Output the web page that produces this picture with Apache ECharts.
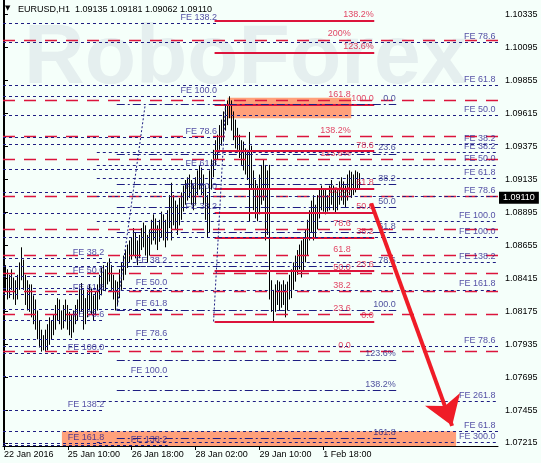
<!DOCTYPE html>
<html><head><meta charset="utf-8">
<script src="https://cdn.jsdelivr.net/npm/echarts@6/dist/echarts.min.js"></script>
<style>html,body{margin:0;padding:0;background:#f5fffa}#c{width:541px;height:463px}</style>
</head><body><div id="c"></div><script>
// ---------- data ----------
const tickLabels = ['22 Jan 2016','25 Jan 10:00','26 Jan 18:00','28 Jan 02:00','29 Jan 10:00','1 Feb 18:00'];
const priceTicks = [1.07215,1.07455,1.07695,1.07935,1.08175,1.08415,1.08655,1.08895,1.09135,1.09375,1.09615,1.09855,1.10095,1.10335];
const headerText = 'EURUSD,H1  1.09135 1.09181 1.09062 1.09110';
const lastPrice = 1.09110;
const firstOpen = 1.0848;
const highs = [
1.0853,1.0851,1.0848,1.0844,1.0848,1.0842,1.0840,1.0844,1.0853,1.0864,
1.0855,1.0844,1.0840,1.0837,1.0837,1.0829,1.0826,1.0818,1.0811,1.0804,
1.0800,1.0804,1.0808,1.0813,1.0811,1.0815,1.0822,1.0827,1.0826,1.0818,
1.0822,1.0826,1.0822,1.0817,1.0815,1.0818,1.0822,1.0826,1.0834,1.0838,
1.0833,1.0827,1.0833,1.0837,1.0834,1.0829,1.0832,1.0837,1.0844,1.0849,
1.0851,1.0848,1.0853,1.0856,1.0851,1.0844,1.0840,1.0839,1.0848,1.0853,
1.0858,1.0862,1.0866,1.0869,1.0871,1.0878,1.0875,1.0869,1.0873,1.0878,
1.0882,1.0880,1.0873,1.0877,1.0884,1.0888,1.0885,1.0880,1.0884,1.0890,
1.0888,1.0884,1.0891,1.0902,1.0911,1.0902,1.0898,1.0895,1.0900,1.0904,
1.0909,1.0913,1.0915,1.0917,1.0913,1.0909,1.0915,1.0920,1.0924,1.0922,
1.0917,1.0909,1.0902,1.0920,1.0928,1.0935,1.0942,1.0946,1.0953,1.0957,
1.0963,1.0968,1.0971,1.0974,1.0971,1.0963,1.0957,1.0951,1.0946,1.0942,
1.0941,1.0936,1.0935,1.0948,1.0938,1.0920,1.0913,1.0909,1.0917,1.0924,
1.0928,1.0924,1.0920,1.0924,1.0840,1.0833,1.0837,1.0840,1.0839,1.0837,
1.0840,1.0837,1.0839,1.0844,1.0848,1.0853,1.0858,1.0862,1.0866,1.0869,
1.0871,1.0877,1.0884,1.0891,1.0898,1.0902,1.0895,1.0902,1.0906,1.0909,
1.0907,1.0906,1.0902,1.0909,1.0913,1.0909,1.0906,1.0907,1.0912,1.0915,
1.0912,1.0909,1.0917,1.0920,1.0919,1.0917,1.0920,1.0919,1.0918];
const lows = [
1.0833,1.0832,1.0826,1.0827,1.0833,1.0826,1.0822,1.0826,1.0833,1.0840,
1.0833,1.0822,1.0818,1.0817,1.0813,1.0808,1.0804,1.0797,1.0791,1.0788,
1.0789,1.0788,1.0789,1.0793,1.0797,1.0800,1.0804,1.0811,1.0808,1.0804,
1.0805,1.0810,1.0804,1.0800,1.0798,1.0802,1.0808,1.0811,1.0815,1.0817,
1.0804,1.0808,1.0813,1.0818,1.0815,1.0811,1.0815,1.0818,1.0826,1.0829,
1.0833,1.0832,1.0837,1.0839,1.0833,1.0826,1.0818,1.0822,1.0827,1.0833,
1.0840,1.0844,1.0849,1.0853,1.0855,1.0858,1.0856,1.0851,1.0856,1.0862,
1.0864,1.0858,1.0853,1.0858,1.0866,1.0869,1.0866,1.0862,1.0868,1.0871,
1.0869,1.0864,1.0869,1.0878,1.0869,1.0880,1.0877,1.0873,1.0880,1.0884,
1.0890,1.0895,1.0898,1.0900,1.0895,1.0891,1.0895,1.0902,1.0906,1.0902,
1.0895,1.0884,1.0871,1.0875,1.0906,1.0915,1.0924,1.0928,1.0935,1.0938,
1.0942,1.0949,1.0953,1.0958,1.0949,1.0942,1.0936,1.0935,1.0929,1.0924,
1.0920,1.0917,1.0913,1.0883,1.0906,1.0891,1.0885,1.0883,1.0888,1.0895,
1.0898,1.0869,1.0873,1.0826,1.0817,1.0810,1.0817,1.0822,1.0818,1.0820,
1.0822,1.0813,1.0818,1.0826,1.0827,1.0833,1.0839,1.0844,1.0848,1.0842,
1.0846,1.0853,1.0858,1.0869,1.0875,1.0869,1.0871,1.0877,1.0885,1.0891,
1.0890,1.0888,1.0890,1.0891,1.0895,1.0891,1.0889,1.0891,1.0895,1.0898,
1.0895,1.0893,1.0898,1.0902,1.0900,1.0902,1.0904,1.0906,1.0906];
const closes = [
1.0844,1.0837,1.0833,1.0840,1.0837,1.0832,1.0829,1.0838,1.0848,1.0851,
1.0839,1.0829,1.0826,1.0827,1.0818,1.0813,1.0810,1.0802,1.0797,1.0793,
1.0795,1.0797,1.0800,1.0805,1.0804,1.0810,1.0815,1.0820,1.0813,1.0811,
1.0817,1.0818,1.0810,1.0808,1.0805,1.0813,1.0817,1.0822,1.0827,1.0826,
1.0813,1.0822,1.0826,1.0829,1.0822,1.0820,1.0826,1.0832,1.0837,1.0842,
1.0844,1.0840,1.0848,1.0849,1.0840,1.0833,1.0829,1.0833,1.0840,1.0846,
1.0853,1.0856,1.0861,1.0862,1.0866,1.0871,1.0864,1.0862,1.0868,1.0873,
1.0877,1.0866,1.0862,1.0871,1.0878,1.0880,1.0873,1.0871,1.0878,1.0882,
1.0877,1.0871,1.0882,1.0893,1.0898,1.0891,1.0888,1.0884,1.0891,1.0895,
1.0902,1.0906,1.0907,1.0909,1.0902,1.0900,1.0907,1.0913,1.0917,1.0909,
1.0902,1.0891,1.0880,1.0913,1.0922,1.0929,1.0936,1.0941,1.0948,1.0953,
1.0958,1.0964,1.0966,1.0968,1.0955,1.0949,1.0944,1.0942,1.0936,1.0931,
1.0928,1.0924,1.0920,1.0935,1.0917,1.0902,1.0895,1.0891,1.0906,1.0913,
1.0917,1.0891,1.0884,1.0833,1.0826,1.0822,1.0829,1.0833,1.0827,1.0829,
1.0833,1.0826,1.0833,1.0839,1.0842,1.0848,1.0853,1.0856,1.0861,1.0853,
1.0862,1.0869,1.0878,1.0885,1.0891,1.0880,1.0885,1.0895,1.0900,1.0902,
1.0898,1.0895,1.0898,1.0904,1.0906,1.0900,1.0897,1.0902,1.0906,1.0909,
1.0902,1.0904,1.0909,1.0915,1.0909,1.0912,1.0915,1.0914,1.0911];

// Fibonacci retracement levels [price, label]
const retraceA = [[1.1015,'200%'],[1.0971,'161.8'],[1.0945,'138.2%'],[1.0928,'123.6%'],[1.0901,'100.0'],[1.0877,'78.6'],[1.0858,'61.8'],[1.0845,'50.0'],[1.0832,'38.2'],[1.0815,'23.6'],[1.0788,'0.0']];
const retraceB = [[1.1029,'138.2%'],[1.1006,'123.6%'],[1.0968,'100.0'],[1.0934,'78.6'],[1.0907,'61.8'],[1.0889,'50.0'],[1.0871,'38.2'],[1.0847,'23.6'],[1.0810,'0.0']];
const retraceC = [[1.0968,'0.0'],[1.0932,'23.6'],[1.0910,'38.2'],[1.0893,'50.0'],[1.0875,'61.8'],[1.0850,'78.6'],[1.0818,'100.0'],[1.0782,'123.6%'],[1.0760,'138.2%'],[1.0725,'161.8']];
// Fibonacci expansion levels [price, label]
const expandD = [[1.1013,'FE 78.6'],[1.0982,'FE 61.8'],[1.0960,'FE 50.0'],[1.0939,'FE 38.2']];
const expandG = [[1.0933,'FE 38.2'],[1.0924,'FE 50.0'],[1.0914,'FE 61.8'],[1.0901,'FE 78.6'],[1.0883,'FE 100.0'],[1.0853,'FE 138.2'],[1.0833,'FE 161.8'],[1.0752,'FE 261.8'],[1.0722,'FE 300.0']];
const expandH = [[1.0871,'FE 100.0'],[1.0792,'FE 78.6'],[1.0730,'FE 61.8']];
const expandE = [[1.0856,'FE 38.2'],[1.0843,'FE 50.0'],[1.0830,'FE 61.8'],[1.0811,'FE 78.6'],[1.0787,'FE 100.0'],[1.0745,'FE 138.2'],[1.0721,'FE 161.8']];
const expandF = [[1.0850,'FE 38.2'],[1.0834,'FE 50.0'],[1.0819,'FE 61.8'],[1.0797,'FE 78.6'],[1.0770,'FE 100.0'],[1.0720,'FE 138.2']];
const expandI = [[1.1027,'FE 138.2'],[1.0974,'FE 100.0'],[1.0944,'FE 78.6'],[1.0921,'FE 61.8'],[1.0904,'FE 50.0'],[1.0889,'FE 38.2']];
// trend lines of the retracements [[bar, price],[bar, price]]
const trendC = [[56.5,1.0818],[70.75,1.0968]];
const trendB = [[105,1.0810],[111,1.0968]];
// forecast arrow
const arrowPath = [[184,1.0896],[224.5,1.0734]];
// highlighted zones [bar0, price0, bar1, price1]
const zones = [[112,1.0973,174,1.0958],[29,1.0730,226.5,1.0719]];

// ---------- build ----------
const SLOTS = 248;
const categories = Array.from({length: SLOTS}, (_, i) => String(i));
const ohlc = closes.map((c, i) => {
  const o = i === 0 ? firstOpen : closes[i - 1];
  return [o, c, Math.min(lows[i], o, c), Math.max(highs[i], o, c)];
});
const YMIN = 1.07193, YMAX = 1.10441;
const RED = '#dc143c', NAVY = '#1e1e82', LBL = '#2a2390';
const FONT = 'Liberation Sans';

const sets = [
  {lv: retraceA, from: -0.5, to: 247.5, at: 174,   color: RED,  width: 1.4, dash: [12, 9], lc: RED},
  {lv: retraceB, from: 105.5, to: 185.5, at: 185.5, color: RED,  width: 2,   dash: 'solid', lc: RED},
  {lv: retraceC, from: 56.5, to: 196.5, at: 196.5, color: NAVY, width: 1,   dash: [8, 3, 2, 3], lc: NAVY},
  {lv: expandD, from: -0.5, to: 247.5, at: 246.5, color: NAVY, width: 1, dash: [3, 3], lc: LBL},
  {lv: expandG, from: 46.5, to: 247.5, at: 246.5, color: NAVY, width: 1, dash: [3, 3], lc: LBL},
  {lv: expandH, from: -0.5, to: 247.5, at: 246.5, color: NAVY, width: 1, dash: [3, 3], lc: LBL},
  {lv: expandE, from: -0.5, to: 50.5, at: 50.5, color: NAVY, width: 1, dash: [3, 3], lc: LBL},
  {lv: expandF, from: -0.5, to: 82, at: 82, color: NAVY, width: 1, dash: [3, 3], lc: LBL},
  {lv: expandI, from: -0.5, to: 107, at: 107, color: NAVY, width: 1, dash: [3, 3], lc: LBL}
];

const series = [];
series.push({
  type: 'scatter', xAxisIndex: 1, yAxisIndex: 0, z: 1, silent: true, symbolSize: 0,
  data: [[0, 1.0]],
  markArea: {silent: true, itemStyle: {color: '#ffa07a'},
    data: zones.map(z => [{coord: [z[0], z[1]]}, {coord: [z[2], z[3]]}])}
});
series.push({
  type: 'candlestick', xAxisIndex: 0, yAxisIndex: 0, z: 2, barWidth: 1, silent: true,
  data: ohlc,
  itemStyle: {color: '#000', color0: '#000', borderColor: '#000', borderColor0: '#000', borderWidth: 1},
  markLine: {silent: true, symbol: 'none', z: 10,
    lineStyle: {color: 'rgba(0,0,0,0)', width: 0},
    label: {show: true, position: 'end', distance: 1, formatter: lastPrice.toFixed(5),
      color: '#fff', backgroundColor: '#000', padding: [2, 4, 1, 4], fontSize: 9, fontFamily: FONT},
    data: [{yAxis: lastPrice}]}
});
sets.forEach(s => {
  series.push({
    type: 'lines', coordinateSystem: 'cartesian2d', xAxisIndex: 1, yAxisIndex: 0, z: 3, silent: true,
    lineStyle: {color: s.color, width: s.width, type: s.dash, opacity: 1},
    data: s.lv.map(l => ({coords: [[s.from, l[0]], [s.to, l[0]]]}))
  });
  series.push({
    type: 'scatter', xAxisIndex: 1, yAxisIndex: 0, z: 5, silent: true, symbol: 'rect', symbolSize: 1,
    itemStyle: {color: 'rgba(0,0,0,0)'},
    label: {show: true, position: [0, -1], align: 'right', verticalAlign: 'bottom',
      color: s.lc, fontSize: 9, fontFamily: FONT, formatter: p => p.value[2]},
    data: s.lv.map(l => [s.at, l[0], l[1]])
  });
});
series.push({
  type: 'lines', coordinateSystem: 'cartesian2d', xAxisIndex: 1, yAxisIndex: 0, z: 3, silent: true,
  lineStyle: {color: NAVY, width: 1, type: [2, 2], opacity: 1},
  data: [{coords: trendC}, {coords: trendB}]
});
series.push({
  type: 'lines', coordinateSystem: 'cartesian2d', xAxisIndex: 1, yAxisIndex: 0, z: 8, silent: true,
  symbol: ['none', 'arrow'], symbolSize: [24, 28],
  lineStyle: {color: '#ef1c27', width: 4, opacity: 1},
  data: [{coords: arrowPath}]
});

const chart = echarts.init(document.getElementById('c'), null, {renderer: 'canvas'});
chart.setOption({
  backgroundColor: '#f5fffa',
  animation: false,
  grid: {left: 3, right: 43, top: 0, bottom: 17, containLabel: false},
  xAxis: [
    {type: 'category', data: categories, boundaryGap: true,
      axisLine: {show: true, lineStyle: {color: '#000', width: 1}},
      axisTick: {show: true, alignWithLabel: true, length: 4, lineStyle: {color: '#000'},
        interval: (i) => i % 32 === 0 && i / 32 < tickLabels.length},
      axisLabel: {show: true, interval: (i) => i % 32 === 0 && i / 32 < tickLabels.length,
        formatter: (v, i) => (i % 32 === 0 && i / 32 < tickLabels.length) ? tickLabels[i / 32] : '',
        align: 'left', color: '#000', fontSize: 9, fontFamily: FONT, margin: 4},
      splitLine: {show: false}},
    {type: 'value', min: -0.5, max: 247.5, show: false}
  ],
  yAxis: [
    {type: 'value', position: 'right', min: YMIN, max: YMAX, scale: true,
      axisLine: {show: true, lineStyle: {color: '#000', width: 1}},
      axisTick: {show: true, length: 4, customValues: priceTicks, lineStyle: {color: '#000'}},
      axisLabel: {show: true, customValues: priceTicks, formatter: v => v.toFixed(5),
        color: '#000', fontSize: 9, fontFamily: FONT, margin: 7},
      splitLine: {show: false}},
    {type: 'value', position: 'left', min: YMIN, max: YMAX, scale: true,
      axisLine: {show: true, lineStyle: {color: '#000', width: 1}},
      axisTick: {show: false}, axisLabel: {show: false}, splitLine: {show: false}}
  ],
  graphic: [
    {type: 'text', z: -5, silent: true, left: 24, top: 18,
      style: {text: 'RoboForex', fill: '#e5efef', font: 'bold 84px "Liberation Sans"'}},
    {type: 'text', z: 50, silent: true, left: 5, top: 5,
      style: {text: '\u25BC', fill: '#000', font: '7px "DejaVu Sans"'}},
    {type: 'text', z: 50, silent: true, left: 18, top: 5,
      style: {text: headerText, fill: '#000', font: '9px "Liberation Sans"'}}
  ],
  series: series
});
</script></body></html>
